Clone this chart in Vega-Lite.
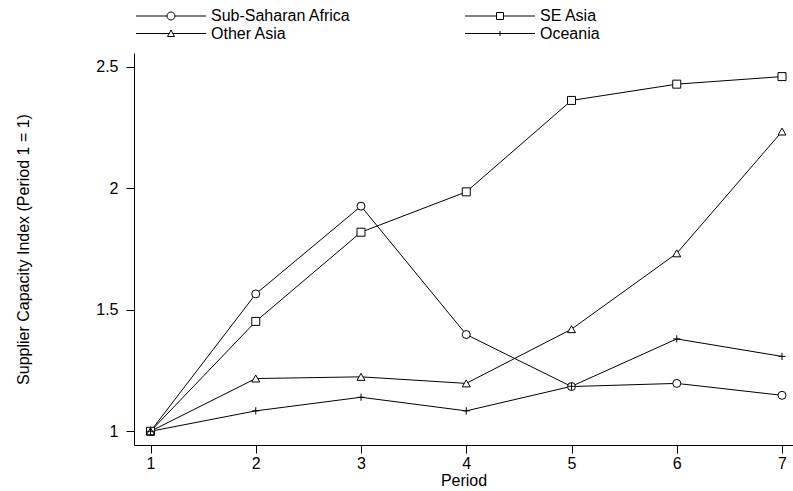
{
  "$schema": "https://vega.github.io/schema/vega-lite/v6.json",
  "width": 659,
  "height": 392,
  "autosize": {"type": "none"},
  "padding": {"left": 134, "top": 53, "right": 0, "bottom": 46},
  "background": "white",
  "config": {
    "view": {"stroke": null},
    "font": "Liberation Sans",
    "axis": {"grid": false, "domainColor": "black", "tickColor": "black", "labelColor": "black", "titleColor": "black", "labelFont": "Liberation Sans", "titleFont": "Liberation Sans", "labelFontSize": 16, "titleFontSize": 16, "titleFontWeight": "normal", "tickSize": 8, "domainWidth": 1, "tickWidth": 1}
  },
  "data": {
    "values": [
      {"series": "Sub-Saharan Africa", "period": 1, "value": 1.0},
      {"series": "Sub-Saharan Africa", "period": 2, "value": 1.565},
      {"series": "Sub-Saharan Africa", "period": 3, "value": 1.926},
      {"series": "Sub-Saharan Africa", "period": 4, "value": 1.398},
      {"series": "Sub-Saharan Africa", "period": 5, "value": 1.184},
      {"series": "Sub-Saharan Africa", "period": 6, "value": 1.197},
      {"series": "Sub-Saharan Africa", "period": 7, "value": 1.148},
      {"series": "SE Asia", "period": 1, "value": 1.0},
      {"series": "SE Asia", "period": 2, "value": 1.452},
      {"series": "SE Asia", "period": 3, "value": 1.819},
      {"series": "SE Asia", "period": 4, "value": 1.985},
      {"series": "SE Asia", "period": 5, "value": 2.361},
      {"series": "SE Asia", "period": 6, "value": 2.428},
      {"series": "SE Asia", "period": 7, "value": 2.459},
      {"series": "Other Asia", "period": 1, "value": 1.0},
      {"series": "Other Asia", "period": 2, "value": 1.217},
      {"series": "Other Asia", "period": 3, "value": 1.224},
      {"series": "Other Asia", "period": 4, "value": 1.197},
      {"series": "Other Asia", "period": 5, "value": 1.42},
      {"series": "Other Asia", "period": 6, "value": 1.732},
      {"series": "Other Asia", "period": 7, "value": 2.233},
      {"series": "Oceania", "period": 1, "value": 1.0},
      {"series": "Oceania", "period": 2, "value": 1.084},
      {"series": "Oceania", "period": 3, "value": 1.14},
      {"series": "Oceania", "period": 4, "value": 1.084},
      {"series": "Oceania", "period": 5, "value": 1.185},
      {"series": "Oceania", "period": 6, "value": 1.38},
      {"series": "Oceania", "period": 7, "value": 1.308}
    ]
  },
  "encoding": {
    "x": {"field": "period", "type": "quantitative", "scale": {"domain": [0.8432, 7.1045], "nice": false, "zero": false},
      "axis": {"title": "Period", "values": [1, 2, 3, 4, 5, 6, 7], "format": "d", "labelPadding": 2, "titlePadding": 1, "labelFlush": false}},
    "y": {"field": "value", "type": "quantitative", "scale": {"domain": [0.9436, 2.5561], "nice": false, "zero": false},
      "axis": {"title": "Supplier Capacity Index (Period 1 = 1)", "values": [1, 1.5, 2, 2.5], "format": "~g", "labelPadding": 8, "titlePadding": 64, "labelFlush": false}}
  },
  "layer": [
    {
      "mark": {"type": "line", "color": "black", "strokeWidth": 1},
      "encoding": {"detail": {"field": "series", "type": "nominal"}}
    },
    {
      "mark": {"type": "point", "filled": false, "fill": "white", "stroke": "black", "strokeWidth": 1, "size": 64, "opacity": 1},
      "encoding": {
        "shape": {"field": "series", "type": "nominal", "legend": null,
          "scale": {"domain": ["Sub-Saharan Africa", "SE Asia", "Other Asia", "Oceania"],
            "range": ["circle", "square", "triangle-up", "M-0.9,0H0.9M0,-0.9V0.9"]}}
      }
    },
    {
      "mark": {"type": "point", "filled": false, "stroke": "black", "strokeWidth": 1, "size": 196, "opacity": 0},
      "encoding": {
        "shape": {"field": "series", "type": "nominal",
          "scale": {"domain": ["Sub-Saharan Africa", "Other Asia", "SE Asia", "Oceania"],
            "range": [
              "M-1,0H3.43M4.57,0H9M4.57,0A0.57,0.57,0,1,1,3.43,0A0.57,0.57,0,1,1,4.57,0Z",
              "M-1,0H3.73M4.27,0H9M4,-0.5L4.5,0.43H3.5Z",
              "M-1,0H3.5M4.5,0H9M3.5,-0.5H4.5V0.5H3.5Z",
              "M-1,0H9M4,-0.36V0.36"
            ]},
          "legend": {"title": null, "orient": "none", "legendX": 1, "legendY": -45, "columns": 2, "columnPadding": 112, "rowPadding": 1.5, "padding": 0,
            "symbolSize": 196, "symbolOpacity": 1, "symbolStrokeColor": "black", "symbolFillColor": "white", "symbolStrokeWidth": 1,
            "labelFont": "Liberation Sans", "labelFontSize": 16, "labelColor": "black", "labelOffset": 60, "labelLimit": 300}
        }
      }
    }
  ],
  "resolve": {"scale": {"shape": "independent"}, "legend": {"shape": "independent"}}
}
